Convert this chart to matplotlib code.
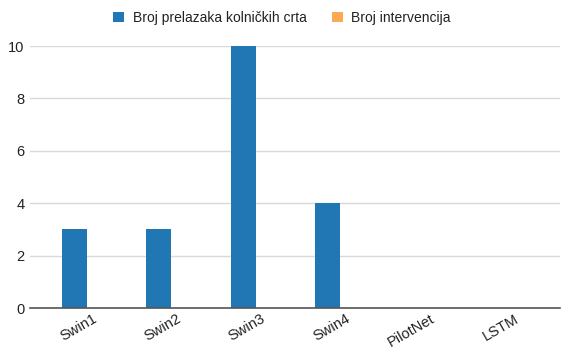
import numpy as np
import matplotlib.pyplot as plt
from matplotlib.transforms import ScaledTranslation

plt.rcParams['font.family'] = ['Liberation Sans', 'DejaVu Sans']

models = ['Swin1', 'Swin2', 'Swin3', 'Swin4', 'PilotNet', 'LSTM']
lane_crossings = [3, 3, 10, 4, 0, 0]
interventions = [0, 0, 0, 0, 0, 0]

blue = '#2176b4'
orange = '#ffa852'

fig = plt.figure(figsize=(5.64, 3.49), dpi=100)
# plot area: y=0 at px 308, y=10 at px 46
ax = fig.add_axes([30 / 564, (349 - 308) / 349, 530 / 564, (308 - 46) / 349])

x = np.arange(len(models))
w = 0.30
ax.bar(x - w / 2, lane_crossings, w, color=blue, label='Broj prelazaka kolničkih crta', zorder=3)
ax.bar(x + w / 2, interventions, w, color=orange, label='Broj intervencija', zorder=3)

ax.set_ylim(0, 10)
ax.set_xlim(-0.675, 5.6)
ax.set_yticks([0, 2, 4, 6, 8, 10])
ax.yaxis.grid(True, color='#d9d9d9', linewidth=1, zorder=0)
ax.set_xticks(x)
ax.set_xticklabels(models, rotation=30, ha='right', rotation_mode='anchor')
ax.tick_params(axis='both', length=0, labelsize=10.5, colors='#222222')
ax.tick_params(axis='y', pad=4)
ax.tick_params(axis='x', pad=4)
shift = ScaledTranslation(5 / 100, 2 / 100, fig.dpi_scale_trans)
for lbl in ax.get_xticklabels():
    lbl.set_transform(lbl.get_transform() + shift)
for s in ['top', 'right', 'left']:
    ax.spines[s].set_visible(False)
ax.spines['bottom'].set_color('#555555')
ax.spines['bottom'].set_linewidth(1.2)
ax.spines['bottom'].set_zorder(4)

fig.legend(loc='upper center', bbox_to_anchor=(0.5, 1.005), ncol=2, frameon=False,
           fontsize=10, handlelength=0.8, handleheight=0.8, handletextpad=0.6,
           columnspacing=1.8, labelcolor='#222222')

fig.savefig('out.png', dpi=100)
